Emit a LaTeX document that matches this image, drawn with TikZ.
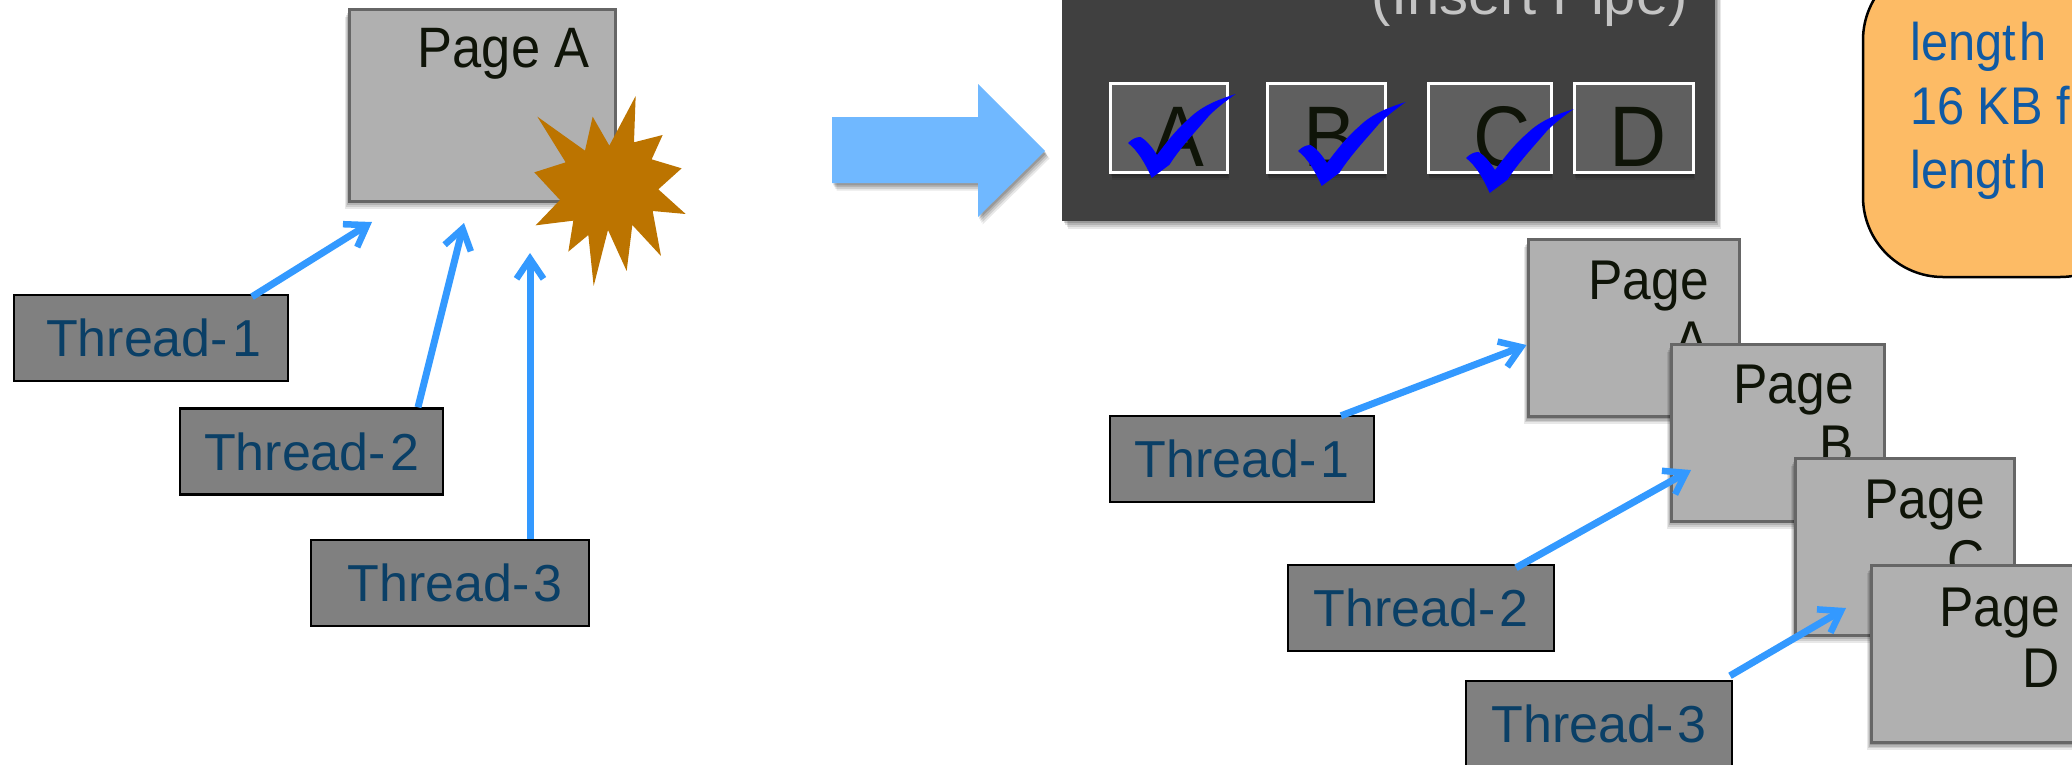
\documentclass[tikz,border=0pt]{standalone}
\usepackage{fontspec}
\setmainfont{Liberation Sans}
\newfontfamily\condfont[FakeStretch=.92]{Liberation Sans}
\usetikzlibrary{arrows.meta,shadows}
\definecolor{pagefill}{HTML}{B0B0B0}
\definecolor{pageedge}{HTML}{666666}
\definecolor{threadfill}{HTML}{808080}
\definecolor{threadtext}{HTML}{0A3F66}
\definecolor{arrowblue}{HTML}{3399FF}
\definecolor{bigblue}{HTML}{70B8FF}
\definecolor{panel}{HTML}{404040}
\definecolor{cellfill}{HTML}{5F5F5F}
\definecolor{inkdark}{HTML}{0F1408}
\definecolor{starfill}{HTML}{BC7400}
\definecolor{notefill}{HTML}{FDBB65}
\definecolor{notetext}{HTML}{0F5AA5}
\tikzset{
  softdrop/.style 2 args={
    drop shadow={shadow xshift=1.5*#1,shadow yshift=1.5*#2,opacity=.09,fill=black},
    drop shadow={shadow xshift=1.15*#1,shadow yshift=1.15*#2,opacity=.11,fill=black},
    drop shadow={shadow xshift=.8*#1,shadow yshift=.8*#2,opacity=.13,fill=black},
    drop shadow={shadow xshift=.45*#1,shadow yshift=.45*#2,opacity=.15,fill=black}},
  pagebox/.style={draw=pageedge,line width=3pt,fill=pagefill,inner sep=0pt,softdrop={-3pt}{-5pt}},
  threadbox/.style={draw=black,line width=2.5pt,fill=threadfill,text=threadtext,inner sep=0pt,
    font=\fontsize{52}{60}\selectfont,minimum height=86pt},
  pagelabel/.style={text=inkdark,inner sep=0pt,align=right,anchor=north east,
    font=\condfont\fontsize{56}{61}\selectfont},
  flow/.style={draw=arrowblue,line width=7pt,-{Straight Barb[length=20pt,width=27pt,line width=6.5pt]}},
  cell/.style={draw=white,line width=3pt,fill=cellfill,inner sep=0pt,minimum height=89pt,
    softdrop={1pt}{-5pt}},
  cellmark/.style={text=inkdark,inner sep=0pt,anchor=base,font=\condfont\fontsize{86}{90}\selectfont},
  tick/.style={fill=blue,draw=none}
}
\newcommand{\threadName}[1]{Thread-\hspace{4pt}#1}
\newcommand{\blueTick}[2]{%
  \fill[tick,shift={(#1,#2)}] (0,0) .. controls (4,-4) and (8,-6) .. (12.5,-6)
    .. controls (18,-3) and (24,4) .. (29,12)
    .. controls (40,-3) and (50,-15) .. (61.6,-25)
    .. controls (75,-38) and (92,-44) .. (107.6,-49)
    .. controls (98,-42) and (90,-36) .. (81.7,-28)
    .. controls (68,-12) and (52,5) .. (41.5,21.7)
    -- (23.7,35) .. controls (17,20) and (10,8) .. (0,0) -- cycle;}
\begin{document}
\begin{tikzpicture}[x=1pt,y=-1pt]
\useasboundingbox (0,0) rectangle (2072,764);
\clip (0,0) rectangle (2072,764);

% left: one page
\node[pagebox,minimum width=266pt,minimum height=192pt] (pageL) at (482,105) {};
\node[text=inkdark,inner sep=0pt,anchor=base east,font=\condfont\fontsize{57}{60}\selectfont] (pageLtext) at (590,67) {Page A};
\begin{scope}[shift={(520,80)},x=.3333pt,y=-.3333pt]
\fill[starfill] (347,48) -- (342,187) -- (428,165) -- (395,238) -- (485,265) -- (415,328)
  -- (497,402) -- (398,393) -- (423,528) -- (337,435) -- (320,573) -- (264,450)
  -- (221,618) -- (205,465) -- (145,515) -- (160,422) -- (47,436) -- (120,360)
  -- (43,277) -- (137,247) -- (52,110) -- (195,212) -- (218,110) -- (268,197) -- cycle;
\end{scope}

\node[threadbox,minimum width=274pt] (tL1) at (151,338) {\hspace*{5pt}\threadName{1}};
\node[threadbox,minimum width=263pt] (tL2) at (311.5,451.5) {\threadName{2}};
\node[threadbox,minimum width=278pt] (tL3) at (450,583) {\hspace*{10pt}\threadName{3}};
\coordinate (aL1) at (372,222);
\coordinate (aL2) at (464,223);
\coordinate (aL3) at (530,253);
\draw[flow] ([xshift=101pt,yshift=-3pt]tL1.north) -- (aL1);
\draw[flow] ([xshift=106.5pt]tL2.north) -- (aL2);
\draw[flow] ([xshift=80pt]tL3.north) -- (aL3);

% big arrow
\path[fill=bigblue,softdrop={3pt}{-5pt}]
  (832,117) -- (978,117) -- (978,84) -- (1045,151) -- (978,217) -- (978,183) -- (832,183) -- cycle;

% dark panel
\node[fill=panel,inner sep=0pt,minimum width=653pt,minimum height=261pt,
  softdrop={4pt}{-5pt}] (panelbox) at (1388.5,90.5) {};
\node[text=black!23,inner sep=0pt,anchor=base east,font=\fontsize{58}{60}\selectfont] (paneltitle) at (1688,14) {(Insert Pipe)};
\node[cell,minimum width=117pt] (cA) at (1169,127.5) {};
\node[cell,minimum width=118pt] (cB) at (1326,127.5) {};
\node[cell,minimum width=123pt] (cC) at (1489.5,127.5) {};
\node[cell,minimum width=119pt] (cD) at (1633.5,127.5) {};
\node[cellmark] (lA) at (1178,166) {A};
\node[cellmark] (lB) at (1330,166) {B};
\node[cellmark] (lC) at (1502,166) {C};
\node[cellmark] (lD) at (1638,166) {D};
\blueTick{1128}{143}
\blueTick{1298}{151}
\blueTick{1466}{158}

% note
\node[draw=black,line width=2.5pt,fill=notefill,rounded corners=80pt,inner sep=0pt,
  minimum width=277pt,minimum height=317pt] (notebox) at (2001.5,118.5) {};
\node[text=notetext,inner sep=0pt,align=left,anchor=north west,
  font=\condfont\fontsize{53}{64}\selectfont] (notetxt) at (1910,22) {lengt\hspace{4pt}h\\16 KB f\\lengt\hspace{4pt}h};

% right: stacked pages
\node[pagebox,minimum width=211pt,minimum height=177pt] (pA) at (1633.5,328) {};
\node[pagelabel] (pAt) at (1709,261) {Page\\A};
\node[pagebox,minimum width=213pt,minimum height=177pt] (pB) at (1777.5,432.5) {};
\node[pagelabel] (pBt) at (1854,365) {Page\\B};
\node[pagebox,minimum width=219pt,minimum height=177pt] (pC) at (1904.5,546.5) {};
\node[pagelabel] (pCt) at (1985,480) {Page\\C};
\node[pagebox,minimum width=219pt,minimum height=177pt] (pD) at (1980.5,654) {};
\node[pagelabel] (pDt) at (2060,588) {Page\\D};

\node[threadbox,minimum width=264pt] (tR1) at (1242,459) {\threadName{1}};
\node[threadbox,minimum width=266pt] (tR2) at (1421,608) {\threadName{2}};
\node[threadbox,minimum width=266pt] (tR3) at (1599,724) {\threadName{3}};
\coordinate (aR2) at (1691,470);
\coordinate (aR3) at (1846,608);
\draw[flow] ([xshift=99pt,yshift=-1pt]tR1.north) -- ([yshift=-17pt]pA.west);
\draw[flow] ([xshift=95pt,yshift=-4pt]tR2.north) -- (aR2);
\draw[flow] ([xshift=131pt,yshift=4pt]tR3.north) -- (aR3);
\end{tikzpicture}
\end{document}
